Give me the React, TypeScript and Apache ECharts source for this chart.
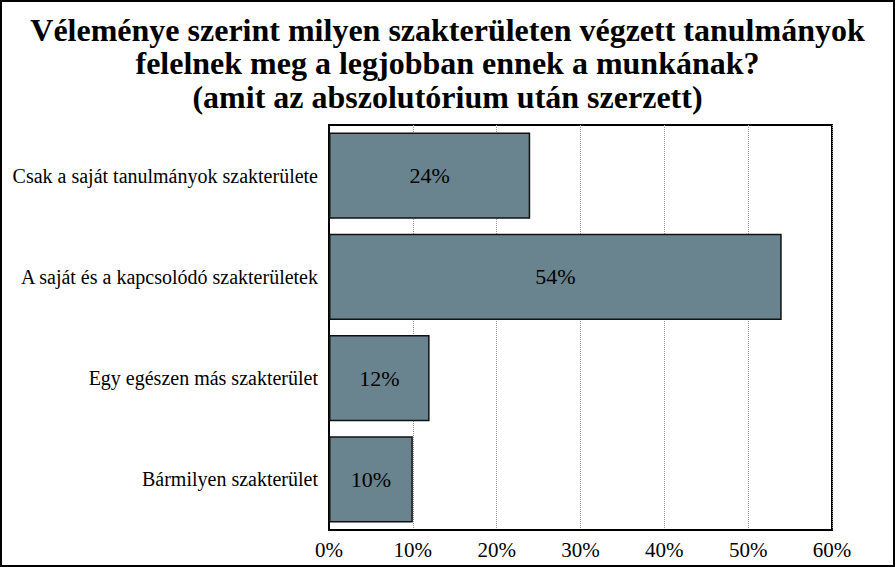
import React, { useEffect, useRef } from "react";
import * as echarts from "echarts";

const categories = [
  "Csak a saját tanulmányok szakterülete",
  "A saját és a kapcsolódó szakterületek",
  "Egy egészen más szakterület",
  "Bármilyen szakterület",
];
const values = [24, 54, 12, 10];
const titleLines = [
  "Véleménye szerint milyen szakterületen végzett tanulmányok",
  "felelnek meg a legjobban ennek a munkának?",
  "(amit az abszolutórium után szerzett)",
];

const FONT = "'Liberation Serif', 'Times New Roman', serif";

export default function App() {
  const ref = useRef<HTMLDivElement>(null);
  useEffect(() => {
    if (!ref.current) return;
    const chart = echarts.init(ref.current, null, { renderer: "svg" });
    chart.setOption({
      animation: false,
      backgroundColor: "#fff",
      title: {
        text: titleLines.join("\n"),
        left: "center",
        top: 8,
        textStyle: {
          fontFamily: FONT,
          fontWeight: "bold",
          fontSize: 32,
          lineHeight: 33.5,
          color: "#000",
        },
      },
      grid: {
        left: 329,
        right: 63,
        top: 125,
        bottom: 37,
        show: true,
        borderColor: "#000",
        borderWidth: 2,
      },
      xAxis: {
        type: "value",
        min: 0,
        max: 60,
        interval: 10,
        axisLine: { show: true, lineStyle: { color: "#000", width: 2 } },
        axisTick: { show: false },
        axisLabel: {
          formatter: "{value}%",
          fontFamily: FONT,
          fontSize: 21,
          color: "#000",
          margin: 9,
        },
        splitLine: {
          show: true,
          lineStyle: { color: "#999", type: "dotted", width: 1 },
        },
      },
      yAxis: {
        type: "category",
        data: categories,
        inverse: true,
        axisLine: { show: true, lineStyle: { color: "#000", width: 2 } },
        axisTick: { show: false },
        axisLabel: {
          fontFamily: FONT,
          fontSize: 20,
          color: "#000",
          margin: 11,
        },
      },
      series: [
        {
          type: "bar",
          data: values,
          barCategoryGap: "15%",
          itemStyle: {
            color: "#6a848f",
            borderColor: "#111",
            borderWidth: 1.5,
          },
          label: {
            show: true,
            position: "inside",
            formatter: "{c}%",
            fontFamily: FONT,
            fontSize: 22,
            color: "#000",
          },
        },
      ],
      graphic: [
        {
          type: "rect",
          shape: { x: 1, y: 1, width: 893, height: 565 },
          style: { fill: "none", stroke: "#000", lineWidth: 2 },
          silent: true,
        },
      ],
    });
    return () => chart.dispose();
  }, []);
  return (
    <div
      ref={ref}
      style={{ position: "fixed", left: 0, top: 0, width: 895, height: 567 }}
    />
  );
}
